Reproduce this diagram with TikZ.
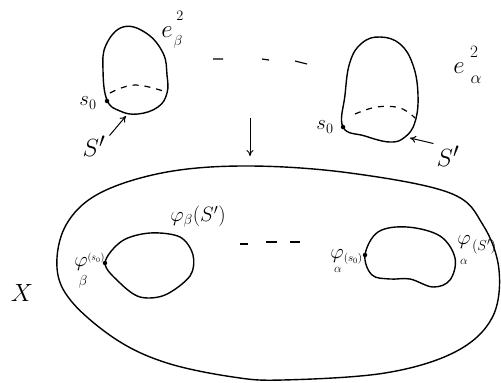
\documentclass[tikz,border=0pt]{standalone}
\usetikzlibrary{arrows.meta}
\begin{document}
\begin{tikzpicture}[x=1pt,y=-1pt,
  curve/.style={line width=1.4pt,line join=round},
  dashcurve/.style={line width=1.2pt,dash pattern=on 6pt off 6pt},
  pointer/.style={line width=1pt,-{To[length=6pt,width=7pt]}},
  dot/.style={circle,fill=black,inner sep=0pt,minimum size=4.5pt},
  lbl/.style={inner sep=0pt}]
\useasboundingbox (0,0) rectangle (501,383);
% top-left cell
\draw[curve] plot[smooth cycle,tension=0.7] coordinates {(107,100) (103,70) (106,45) (123,27) (146,33) (163,53) (167,75) (167,93) (158,107) (138,114) (120,111)};
\draw[dashcurve] plot[smooth,tension=0.7] coordinates {(110,93) (135,85) (166,92)};
\node[dot] (s0b) at (107,101) {};
\node[lbl] (s0bl) at (88,103) {\fontsize{20}{20}\selectfont$s_0$};
\node[lbl] (ebl) at (167,32) {\fontsize{30}{30}\selectfont$e$};
\node[lbl] (ebl2) at (180,16) {\fontsize{15}{15}\selectfont$2$};
\node[lbl] (eblb) at (178,42) {\fontsize{15}{15}\selectfont$\beta$};
\node[lbl] (Sb) at (94,146) {\fontsize{28}{28}\selectfont$S'$};
\coordinate (Sbt) at (126,116);
\draw[pointer] (Sb.north east) ++(4,0) -- (Sbt);
% dashes
\draw[line width=1.2pt] (213,59) -- (223,59) (262,59) -- (269,60) (295,61) -- (307,64);
% top-right cell
\draw[curve] plot[smooth cycle,tension=0.7] coordinates {(343,127) (345,95) (350,62) (362,43) (380,37) (400,44) (413,65) (418,95) (415,122) (405,137) (390,142) (365,136)};
\draw[dashcurve] plot[smooth,tension=0.7] coordinates {(355,114) (377,107) (400,108) (415,118)};
\node[dot] (s0a) at (343,127) {};
\node[lbl] (s0al) at (325,127) {\fontsize{20}{20}\selectfont$s_0$};
\node[lbl] (eal) at (459,68) {\fontsize{34}{34}\selectfont$e$};
\node[lbl] (eal2) at (474,52) {\fontsize{16}{16}\selectfont$2$};
\node[lbl] (eala) at (476,80) {\fontsize{17}{17}\selectfont$\alpha$};
\node[lbl] (Sa) at (448,156) {\fontsize{28}{28}\selectfont$S'$};
\coordinate (Sat) at (410,138);
\draw[pointer] (Sa.north west) ++(-3,-2) -- (Sat);
% down arrow
\coordinate (arrA) at (250,118);
\coordinate (arrB) at (250,156);
\draw[pointer] (arrA) -- (arrB);
% X outer
\draw[curve] plot[smooth cycle,tension=0.6] coordinates {(250,166) (350,173) (450,193) (483,225) (499,270) (492,318) (455,352) (385,373) (283,380) (233,377) (167,363) (117,340) (72,302) (57,268) (66,225) (100,193) (167,172)};
\node[lbl] (X) at (22,293) {\fontsize{42}{42}\selectfont$X$};
% left inner loop
\draw[curve] plot[smooth cycle,tension=0.55] coordinates {(105,263) (122,241) (150,233) (180,237) (193,255) (190,276) (165,295) (140,297) (120,283)};
\node[dot] (pb) at (105,263) {};
\node[lbl] (pbphi) at (81,264) {\fontsize{20}{20}\selectfont$\varphi$};
\node[lbl] (pbbeta) at (83,282) {\fontsize{14}{14}\selectfont$\beta$};
\node[lbl] (pbs0) at (96,258) {\fontsize{10}{10}\selectfont$(s_0)$};
\node[lbl] (pbS) at (198,217) {\fontsize{20}{20}\selectfont$\varphi_\beta(S')$};
% dashes between inner loops
\draw[line width=1.2pt] (240,244) -- (248,244) (266,242) -- (277,242) (290,242) -- (300,242);
% right inner loop
\draw[curve] plot[smooth cycle,tension=0.6] coordinates {(365,255) (378,232) (407,227) (440,236) (455,258) (450,280) (433,287) (410,279) (390,279) (372,275)};
\node[dot] (pa) at (365,255) {};
\node[lbl] (paphi) at (337,256) {\fontsize{20}{20}\selectfont$\varphi$};
\node[lbl] (paal) at (338,270) {\fontsize{13}{13}\selectfont$\alpha$};
\node[lbl] (pas0) at (353,259) {\fontsize{11}{11}\selectfont$(s_0)$};
\node[lbl] (paSphi) at (464,242) {\fontsize{20}{20}\selectfont$\varphi$};
\node[lbl] (paSal) at (464,262) {\fontsize{13}{13}\selectfont$\alpha$};
\node[lbl] (paSS) at (484,247) {\fontsize{15}{15}\selectfont$(S')$};
\end{tikzpicture}
\end{document}
